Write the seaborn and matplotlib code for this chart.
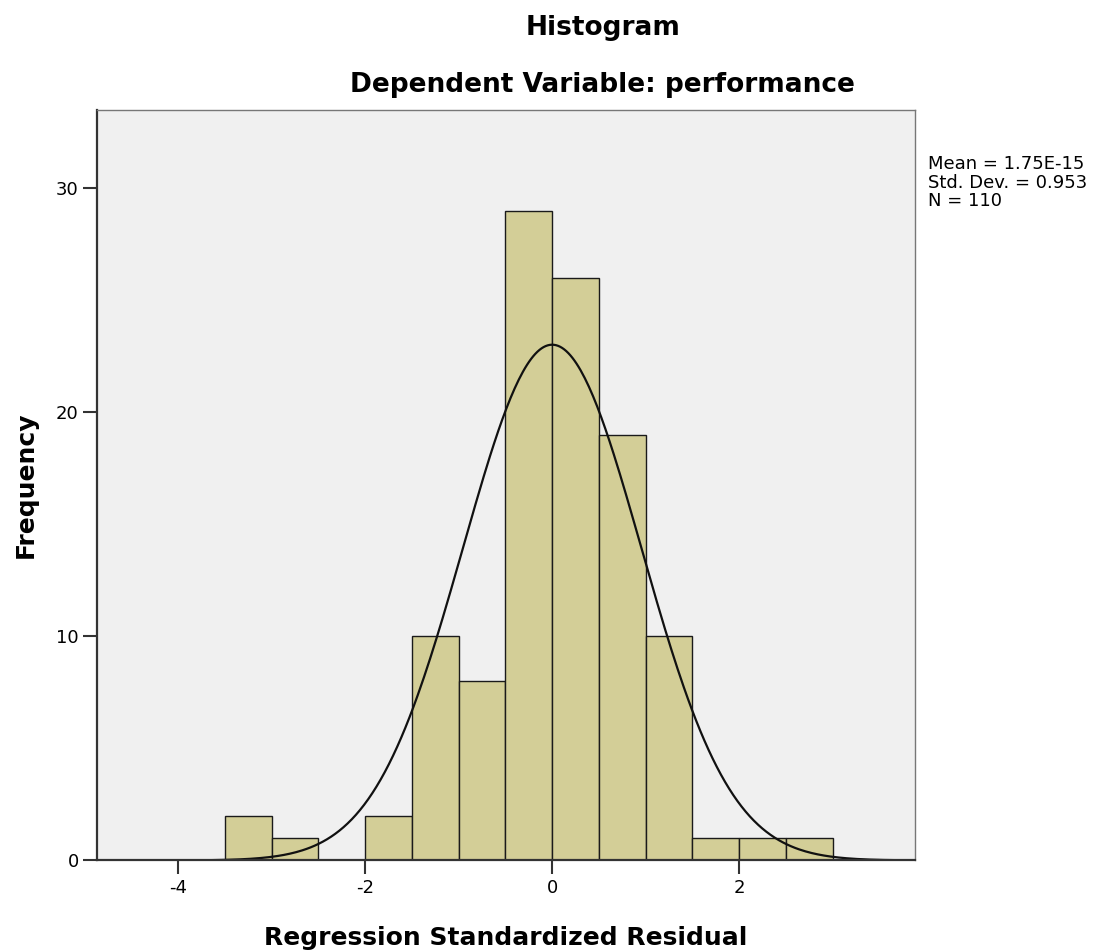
import numpy as np
import pandas as pd
import matplotlib
matplotlib.use("Agg")
import matplotlib.pyplot as plt
import seaborn as sns

# Histogram bins (width 0.5) and counts
bin_left = [-3.5, -3.0, -2.5, -2.0, -1.5, -1.0, -0.5, 0.0, 0.5, 1.0, 1.5, 2.0, 2.5]
counts = [2, 1, 0, 2, 10, 8, 29, 26, 19, 10, 1, 1, 1]
bin_width = 0.5
mean_val = 1.75e-15
std_val = 0.953
n_val = 110

df = pd.DataFrame({"left": bin_left, "count": counts})
df["mid"] = df["left"] + bin_width / 2
edges = list(bin_left) + [bin_left[-1] + bin_width]

sns.set_style("white")
plt.rcParams["font.family"] = ["DejaVu Sans"]
plt.rcParams["axes.unicode_minus"] = False
plt.rcParams["text.color"] = "black"

fig = plt.figure(figsize=(10.97, 9.51), dpi=100)
ax = fig.add_axes([0.0882, 0.0952, 0.7459, 0.7891])
ax.set_facecolor("#f0f0f0")

sns.histplot(data=df, x="mid", weights="count", bins=edges,
             color="#d3ce97", edgecolor="#1a1a1a", linewidth=1.0, alpha=1.0, ax=ax)

# Normal curve (SPSS style), scaled to counts
xs = np.linspace(-4.9, 3.9, 400)
ys = n_val * bin_width * np.exp(-0.5 * ((xs - mean_val) / std_val) ** 2) / (std_val * np.sqrt(2 * np.pi))
sns.lineplot(x=xs, y=ys, color="#111111", linewidth=1.6, ax=ax)

ax.set_xlim(-4.87, 3.88)
ax.set_ylim(0, 33.5)
ax.set_xticks([-4, -2, 0, 2])
ax.set_yticks([0, 10, 20, 30])
ax.tick_params(axis="both", which="major", bottom=True, left=True, direction="out",
               length=10, width=1.5, color="#333333", labelsize=13, labelcolor="black", pad=3)

for side in ["left", "bottom"]:
    ax.spines[side].set_color("#333333")
    ax.spines[side].set_linewidth(1.6)
for side in ["top", "right"]:
    ax.spines[side].set_color("#777777")
    ax.spines[side].set_linewidth(1.0)

ax.set_xlabel("")
ax.set_ylabel("")
fig.text(0.461, 0.0063, "Regression Standardized Residual", ha="center", va="baseline",
         fontsize=18, fontweight="bold")
fig.text(0.0236, 0.49, "Frequency", ha="center", va="center", rotation=90,
         fontsize=18, fontweight="bold")

fig.text(0.55, 0.963, "Histogram", ha="center", va="baseline", fontsize=19, fontweight="bold")
fig.text(0.549, 0.9035, "Dependent Variable: performance", ha="center", va="baseline",
         fontsize=19, fontweight="bold")
fig.text(0.846, 0.837, f"Mean = 1.75E-15\nStd. Dev. = {std_val}\nN = {n_val}",
         ha="left", va="top", fontsize=13, linespacing=1.05)

fig.savefig("out.png", dpi=100)
